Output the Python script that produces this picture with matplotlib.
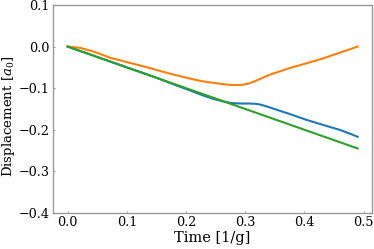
import matplotlib
matplotlib.use("Agg")
import matplotlib.pyplot as plt

# values
t_blue = [0.0, 0.051, 0.102, 0.153, 0.183, 0.204, 0.224, 0.244, 0.26, 0.275, 0.285, 0.295, 0.306,
          0.316, 0.324, 0.333, 0.347, 0.377, 0.403, 0.433, 0.459, 0.478, 0.49]
blue = [0.0, -0.0255, -0.051, -0.0765, -0.093, -0.104, -0.115, -0.125, -0.131, -0.1355, -0.1365,
        -0.137, -0.137, -0.1375, -0.139, -0.1425, -0.149, -0.163, -0.176, -0.189, -0.200,
        -0.210, -0.217]

t_orange = [0.0, 0.021, 0.046, 0.072, 0.102, 0.132, 0.157, 0.178, 0.202, 0.219, 0.235, 0.255, 0.27,
            0.28, 0.29, 0.30, 0.308, 0.316, 0.325, 0.336, 0.347, 0.362, 0.377, 0.404, 0.433,
            0.459, 0.478, 0.49]
orange = [0.0, -0.003, -0.013, -0.027, -0.038, -0.049, -0.059, -0.067, -0.0755, -0.081, -0.085,
          -0.089, -0.0915, -0.0925, -0.0925, -0.091, -0.088, -0.0835, -0.078, -0.071, -0.065,
          -0.058, -0.051, -0.040, -0.028, -0.015, -0.006, 0.0]

t_green = [0.0, 0.1, 0.2, 0.3, 0.4, 0.49]
green = [0.0, -0.050, -0.100, -0.150, -0.200, -0.245]

plt.rcParams["font.family"] = "DejaVu Serif"
plt.rcParams["mathtext.fontset"] = "dejavuserif"

fig = plt.figure(figsize=(3.74, 2.49), dpi=100)
ax = fig.add_axes([0.142, 0.145, 0.853, 0.835])

ax.plot(t_blue, blue, color="tab:blue", lw=1.5)
ax.plot(t_orange, orange, color="tab:orange", lw=1.5)
ax.plot(t_green, green, color="tab:green", lw=1.5)

ax.set_ylim(-0.4, 0.1)
ax.set_xticks([0.0, 0.1, 0.2, 0.3, 0.4, 0.5])
ax.set_yticks([-0.4, -0.3, -0.2, -0.1, 0.0, 0.1])
ax.tick_params(labelsize=9.2, length=1.5, width=0.8, direction="in", color="0.6", pad=2.5)
for s in ax.spines.values():
    s.set_color("0.6")
    s.set_linewidth(1.0)

ax.set_xlabel("Time [1/g]", fontsize=10.5, labelpad=1)
ax.set_ylabel(r"Displacement [$a_0$]", fontsize=9.5)
ax.yaxis.set_label_coords(-0.113, 0.465)

fig.savefig("out.png", dpi=100)
